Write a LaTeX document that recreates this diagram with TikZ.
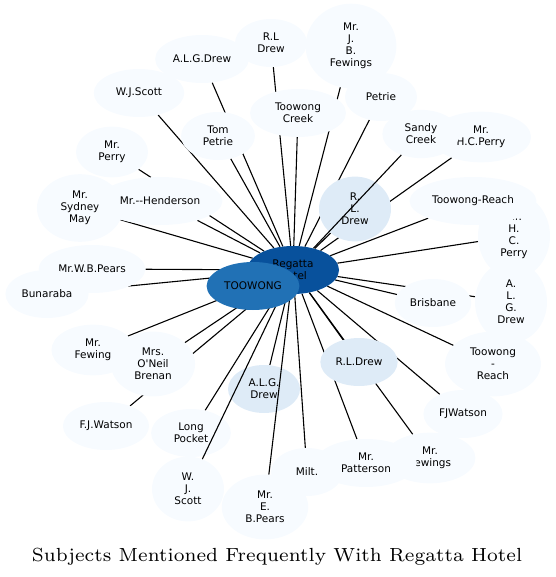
\documentclass[tikz,border=0pt]{standalone}
\usepackage{fontspec}
\usepackage{tikz}
\usetikzlibrary{shapes.geometric}
\newfontfamily\nodefont{DejaVu Sans}[Ligatures=TeXOff]
\definecolor{pale}{HTML}{F7FBFF}
\definecolor{soft}{HTML}{DEEBF7}
\definecolor{mid}{HTML}{2171B5}
\definecolor{deep}{HTML}{08519C}
\pgfdeclarelayer{back}
\pgfdeclarelayer{front}
\pgfsetlayers{back,main,front}

\begin{document}
\begin{tikzpicture}[x=1pt, y=-1pt,
    subj/.style={ellipse, fill=pale, inner xsep=4pt, inner ysep=7pt,
                 minimum width=72pt, minimum height=48pt, align=center,
                 font=\nodefont\fontsize{10.5}{12}\selectfont},
    stack/.style={subj, inner xsep=11pt},
    near/.style={fill=soft},
    link/.style={line width=1.1pt},
  ]
  \useasboundingbox (0,0) rectangle (555,577);
  % Hub nodes (on top of everything)
  \begin{pgfonlayer}{front}
    \node[subj, fill=deep, minimum width=92pt] (hotel) at (293,270) {Regatta\\Hotel};
    \node[subj, fill=mid, minimum width=92pt] (toowong) at (253,286) {TOOWONG};
  \end{pgfonlayer}
  % Upper half
  \node[stack] (rlDrew) at (271,43) {R.L\\Drew};
  \node[stack] (jbFewings) at (351,46) {Mr.\\J.\\B.\\Fewings};
  \node[subj] (algDrew) at (202,59) {A.L.G.Drew};
  \node[subj, inner xsep=9pt] (wjScott) at (139,93) {W.J.Scott};
  \node[subj] (petrie) at (381,97) {Petrie};
  \node[stack] (toowongCreek) at (298,113) {Toowong\\Creek};
  \node[stack] (tomPetrie) at (218,136) {Tom\\Petrie};
  \node[stack] (hcPerry) at (481,137) {Mr.\\H.C.Perry};
  \node[stack] (sandyCreek) at (421,134) {Sandy\\Creek};
  \node[stack] (mrPerry) at (112,152) {Mr.\\Perry};
  \node[stack] (sydneyMay) at (80,208) {Mr.\\Sydney\\May};
  \node[subj] (henderson) at (160,201) {Mr.--Henderson};
  \node[stack, near] (rlDrewB) at (355,209) {R.\\L.\\Drew};
  \node[stack] (hcPerryB) at (514,236) {Mr.\\H.\\C.\\Perry};
  \node[subj] (toowongReach) at (473,201) {Toowong-Reach};
  % Middle row
  \node[subj] (wbPears) at (92,269) {Mr.W.B.Pears};
  \node[subj] (bunaraba) at (47,294) {Bunaraba};
  \node[subj] (brisbane) at (433,303) {Brisbane};
  \node[stack] (algDrewB) at (511,302) {A.\\L.\\G.\\Drew};
  % Lower half
  \node[stack] (fewing) at (93,350) {Mr.\\Fewing};
  \node[stack] (brenan) at (153,364) {Mrs.\\O'Neil\\Brenan};
  \node[subj, near] (rlDrewC) at (359,362) {R.L.Drew};
  \node[stack] (toowongReachB) at (493,364) {Toowong\\-\\Reach};
  \node[stack, near, inner xsep=7pt] (algDrewC) at (264,389) {A.L.G.\\Drew};
  \node[subj] (fjWatson) at (106,426) {F.J.Watson};
  \node[subj] (fjWatsonB) at (463,414) {FJWatson};
  \node[stack] (longPocket) at (191,433) {Long\\Pocket};
  \node[stack] (fewings) at (430,458) {Mr.\\Fewings};
  \node[subj] (milt) at (307,472) {Milt.};
  \node[stack] (patterson) at (366,463) {Mr.\\Patterson};
  \node[stack] (wjScottB) at (188,489) {W.\\J.\\Scott};
  \node[stack] (ebPears) at (265,507) {Mr.\\E.\\B.Pears};
  % Title
  \node[font=\fontsize{7}{8.4}\selectfont, scale=2.71, anchor=base] (title) at (277,561)
    {Subjects Mentioned Frequently With Regatta Hotel};
  % Links hidden behind the subjects
  \begin{pgfonlayer}{back}
    \foreach \n in {rlDrew,jbFewings,algDrew,wjScott,petrie,toowongCreek,
        tomPetrie,hcPerry,mrPerry,sydneyMay,henderson,rlDrewB,hcPerryB,
        toowongReach,wbPears,bunaraba,brisbane,algDrewB,fewing,brenan,
        rlDrewC,toowongReachB,algDrewC,fjWatson,fjWatsonB,longPocket,
        fewings,milt,patterson}
      \draw[link] (hotel) -- (\n);
  \end{pgfonlayer}
  % Links drawn over the subjects they cross
  \foreach \n in {sandyCreek,wjScottB,ebPears}
    \draw[link] (hotel) -- (\n);
\end{tikzpicture}
\end{document}
